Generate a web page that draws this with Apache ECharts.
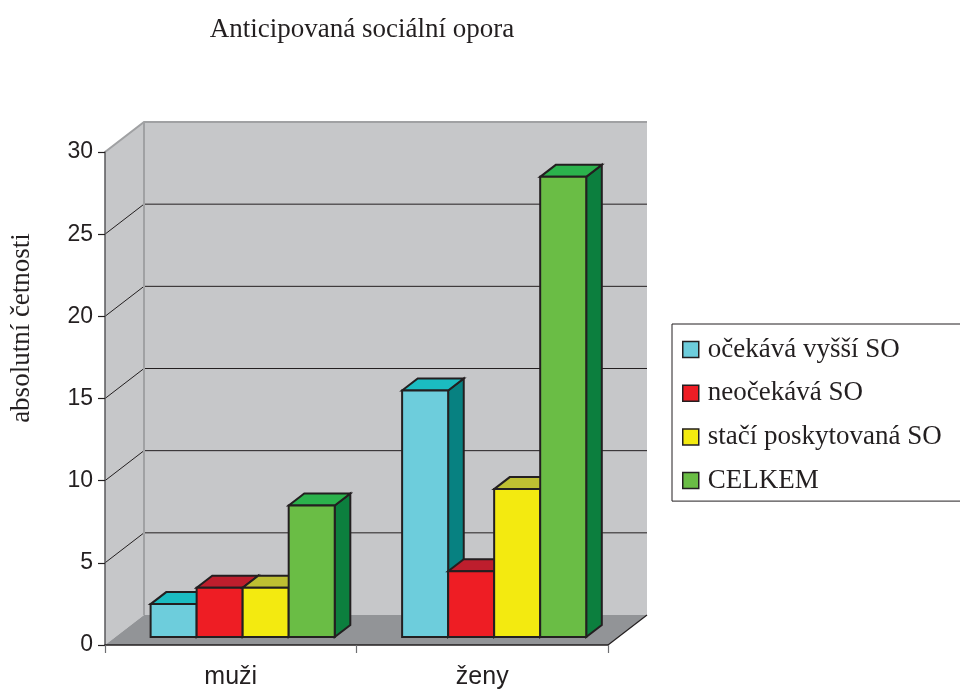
<!DOCTYPE html>
<html>
<head>
<meta charset="utf-8">
<script src="https://cdn.jsdelivr.net/npm/echarts@6/dist/echarts.min.js"></script>
<style>
  html, body { margin: 0; padding: 0; background: #ffffff; }
  #chart { width: 960px; height: 691px; }
</style>
</head>
<body>
<div id="chart"></div>
<script>
// Anticipovaná sociální opora — absolutní četnosti podle pohlaví
const categories = ['muži', 'ženy'];
const seriesNames = ['očekává vyšší SO', 'neočekává SO', 'stačí poskytovaná SO', 'CELKEM'];
const expectsMore = [2, 15];
const expectsNone = [3, 4];
const enoughSupport = [3, 9];
const totals = [8, 28];
const yTicks = [0, 5, 10, 15, 20, 25, 30];

const seriesValues = [expectsMore, expectsNone, enoughSupport, totals];

// face colours: front, top, right side
const palette = [
  { front: '#6DCDDC', top: '#1BBCC1', side: '#078181' },
  { front: '#EE1D24', top: '#BE1E2D', side: '#9B1B1F' },
  { front: '#F3EA10', top: '#BEBF32', side: '#A6A00B' },
  { front: '#6ABD45', top: '#2BB24C', side: '#0C7F3E' }
];

const INK = '#231F20';
const SERIF = 'Liberation Serif';
const DEPTH = { x: 39, y: 30 };          // projection of the full floor depth
const BAR_DEPTH = [0.267, 0.667];        // bar front/back as fraction of floor depth
const BAR_WIDTH_RATIO = 0.183;           // one bar, relative to category band
const GROUP_SHIFT = 1.5;

const chart = echarts.init(document.getElementById('chart'), null, { renderer: 'canvas' });

function renderWalls(params, api) {
  const cs = params.coordSys;
  const x0 = cs.x, x1 = cs.x + cs.width;
  const yOf = v => api.coord([0, v])[1];
  const yMin = yOf(yTicks[0]);
  const yMax = yOf(yTicks[yTicks.length - 1]);
  const dx = DEPTH.x, dy = DEPTH.y;
  const children = [];
  // back wall
  children.push({ type: 'polygon', shape: { points: [[x0 + dx, yMax - dy], [x1 + dx, yMax - dy], [x1 + dx, yMin - dy], [x0 + dx, yMin - dy]] },
    style: { fill: '#C6C7C9' } });
  // left wall
  children.push({ type: 'polygon', shape: { points: [[x0, yMax], [x0 + dx, yMax - dy], [x0 + dx, yMin - dy], [x0, yMin]] },
    style: { fill: '#C6C7C9' } });
  // floor
  children.push({ type: 'polygon', shape: { points: [[x0, yMin], [x1, yMin], [x1 + dx, yMin - dy], [x0 + dx, yMin - dy]] },
    style: { fill: '#929497' } });
  // gridlines on the walls
  yTicks.slice(1, -1).forEach(v => {
    const y = yOf(v);
    children.push({ type: 'polyline', shape: { points: [[x0, y], [x0 + dx, y - dy], [x1 + dx, y - dy]] },
      style: { stroke: INK, lineWidth: 1, fill: null } });
  });
  // wall outline
  children.push({ type: 'polyline', shape: { points: [[x0, yMax], [x0 + dx, yMax - dy], [x1 + dx, yMax - dy]] },
    style: { stroke: '#A0A1A3', lineWidth: 2, fill: null } });
  children.push({ type: 'line', shape: { x1: x0 + dx, y1: yMax - dy, x2: x0 + dx, y2: yMin - dy },
    style: { stroke: '#A0A1A3', lineWidth: 2 } });
  // floor right edge
  children.push({ type: 'line', shape: { x1: x1, y1: yMin, x2: x1 + dx, y2: yMin - dy },
    style: { stroke: INK, lineWidth: 1.2 } });
  return { type: 'group', children };
}

function makeBarRenderer(index) {
  const colors = palette[index];
  return function (params, api) {
    const cat = api.value(0);
    const val = api.value(1);
    const base = api.coord([cat, 0]);
    const top = api.coord([cat, val]);
    const band = api.size([1, 0])[0];
    const w = band * BAR_WIDTH_RATIO;
    const offX = DEPTH.x * BAR_DEPTH[0];
    const offY = DEPTH.y * BAR_DEPTH[0];
    const ddx = DEPTH.x * (BAR_DEPTH[1] - BAR_DEPTH[0]);
    const ddy = DEPTH.y * (BAR_DEPTH[1] - BAR_DEPTH[0]);
    const left = base[0] + offX + GROUP_SHIFT + (index - 2) * w;
    const right = left + w;
    const yb = base[1] - offY;
    const yt = top[1] - offY;
    const edge = { stroke: INK, lineWidth: 2, lineJoin: 'miter' };
    return {
      type: 'group',
      children: [
        { type: 'polygon', shape: { points: [[right, yt], [right + ddx, yt - ddy], [right + ddx, yb - ddy], [right, yb]] },
          style: Object.assign({ fill: colors.side }, edge) },
        { type: 'polygon', shape: { points: [[left, yt], [right, yt], [right + ddx, yt - ddy], [left + ddx, yt - ddy]] },
          style: Object.assign({ fill: colors.top }, edge) },
        { type: 'rect', shape: { x: left, y: yt, width: w, height: yb - yt },
          style: Object.assign({ fill: colors.front }, edge) }
      ]
    };
  };
}

const series = [{
  type: 'custom',
  name: 'walls',
  silent: true,
  z: 1,
  coordinateSystem: 'cartesian2d',
  renderItem: renderWalls,
  data: [[0, 0]]
}];

seriesValues.forEach((values, i) => {
  series.push({
    type: 'custom',
    name: seriesNames[i],
    z: 2,
    coordinateSystem: 'cartesian2d',
    itemStyle: { color: palette[i].front },
    renderItem: makeBarRenderer(i),
    data: values.map((v, c) => [c, v])
  });
});

chart.setOption({
  animation: false,
  backgroundColor: '#ffffff',
  title: {
    text: 'Anticipovaná sociální opora',
    left: 357,
    top: 11,
    textAlign: 'center',
    textStyle: { fontFamily: SERIF, fontSize: 27, fontWeight: 'normal', color: INK }
  },
  legend: {
    orient: 'vertical',
    left: 672,
    top: 324,
    data: seriesNames.map((n, i) => ({ name: n, itemStyle: { color: palette[i].front } })),
    icon: 'rect',
    itemWidth: 16,
    itemHeight: 16,
    itemGap: 16.7,
    padding: [12, 80, 7, 10],
    borderColor: INK,
    borderWidth: 1,
    itemStyle: { borderColor: INK, borderWidth: 1.5 },
    textStyle: { fontFamily: SERIF, fontSize: 27, color: INK, padding: [0, 0, 0, 4] },
    selectedMode: false
  },
  grid: { left: 105, right: 352, top: 152, bottom: 46, containLabel: false },
  xAxis: {
    type: 'category',
    data: categories,
    z: 5,
    axisLine: { lineStyle: { color: INK, width: 1.5 } },
    axisTick: { show: true, length: 8, lineStyle: { color: '#6D6E71', width: 1.2 } },
    axisLabel: { fontFamily: 'Liberation Sans', fontSize: 25, color: INK, margin: 20 }
  },
  yAxis: {
    type: 'value',
    min: 0,
    max: 30,
    interval: 5,
    z: 5,
    splitLine: { show: false },
    axisLine: { show: true, lineStyle: { color: '#58595B', width: 1.5 } },
    axisTick: { show: true, length: 7, lineStyle: { color: INK, width: 1.2 } },
    axisLabel: { fontFamily: 'Liberation Sans', fontSize: 23, color: INK, margin: 12 }
  },
  graphic: [{
    type: 'text',
    x: 22,
    y: 328,
    rotation: Math.PI / 2,
    style: {
      text: 'absolutní četnosti',
      fontFamily: SERIF,
      fontSize: 27,
      fill: INK,
      textAlign: 'center',
      textVerticalAlign: 'middle'
    }
  }],
  series
});
</script>
</body>
</html>
